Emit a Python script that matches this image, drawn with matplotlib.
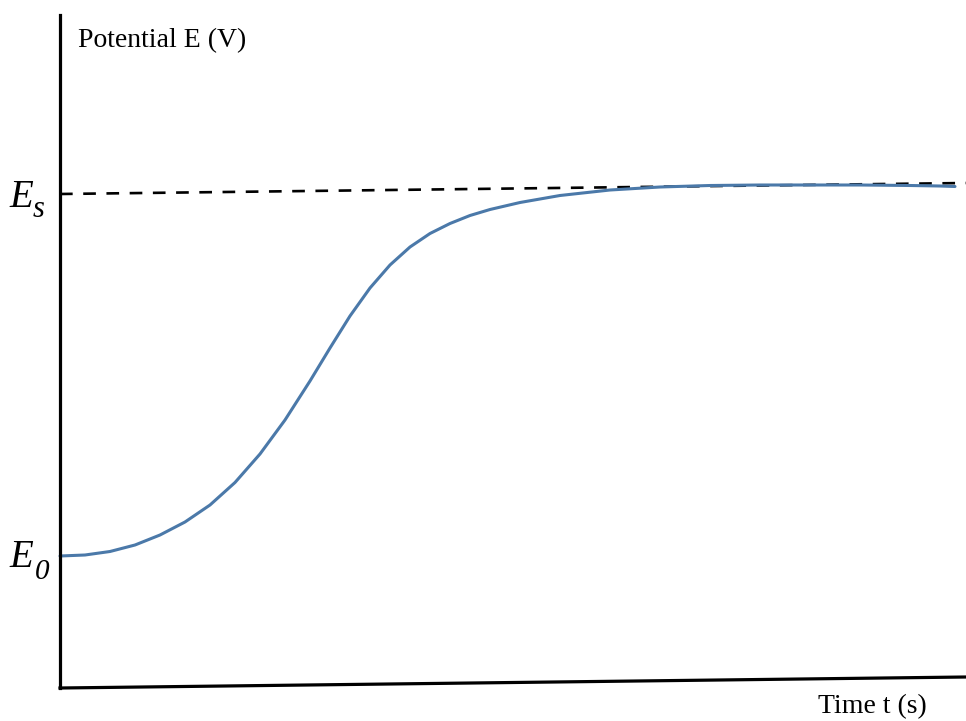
import matplotlib
matplotlib.use("Agg")
import matplotlib.pyplot as plt

# Potential response over time (arbitrary units, E0 = 0)
t_curve = [0, 25, 50, 75, 100, 125, 150, 175, 200, 225, 250, 270, 290, 310,
           330, 350, 370, 390, 410, 430, 460, 500, 550, 600, 650, 700, 750,
           800, 850, 880, 895]
E_curve = [0, 1, 4.5, 11, 21, 34, 51, 73.5, 102, 136, 175, 208, 240, 268,
           291, 309, 322.5, 332.5, 340.5, 346.5, 353.5, 360.5, 366, 369, 370.5,
           371, 371, 371, 370.5, 370, 369.5]

# Steady-state reference line Es (start, end)
t_ref = [0, 906]
E_ref = [362, 373]

# Axis frame lines
t_axis_x = [0, 906]
E_axis_x = [-132, -121]
t_axis_y = [0, 0]
E_axis_y = [-132, 541]

W, H = 966, 721
fig = plt.figure(figsize=(W / 100, H / 100), dpi=100)
ax = fig.add_axes([60 / W, 33 / H, 906 / W, 673 / H])
ax.set_xlim(0, 906)
ax.set_ylim(-132, 541)
ax.axis("off")

ax.plot(t_ref, E_ref, color="black", lw=1.9, dashes=(4.8, 4.0), clip_on=False)
ax.plot(t_curve, E_curve, color="#4b79a9", lw=2.2, solid_capstyle="round",
        solid_joinstyle="round", clip_on=False)
ax.plot(t_axis_x, E_axis_x, color="black", lw=2.3, clip_on=False, solid_capstyle="projecting")
ax.plot(t_axis_y, E_axis_y, color="black", lw=2.3, clip_on=False, solid_capstyle="projecting")

serif = "Liberation Serif"

def fx(px):
    return px / W

def fy(py):
    return 1 - py / H

fig.text(fx(78), fy(47), "Potential E (V)", family=serif, fontsize=20, va="baseline", ha="left")
fig.text(fx(818), fy(713), "Time t (s)", family=serif, fontsize=20, va="baseline", ha="left")

fig.text(fx(9), fy(207), "E", family=serif, style="italic", fontsize=28, va="baseline", ha="left")
fig.text(fx(33), fy(217), "s", family=serif, style="italic", fontsize=22, va="baseline", ha="left")
fig.text(fx(9), fy(567), "E", family=serif, style="italic", fontsize=28, va="baseline", ha="left")
fig.text(fx(35), fy(579), "0", family=serif, style="italic", fontsize=21, va="baseline", ha="left")

fig.savefig("out.png", dpi=100, facecolor="white")
